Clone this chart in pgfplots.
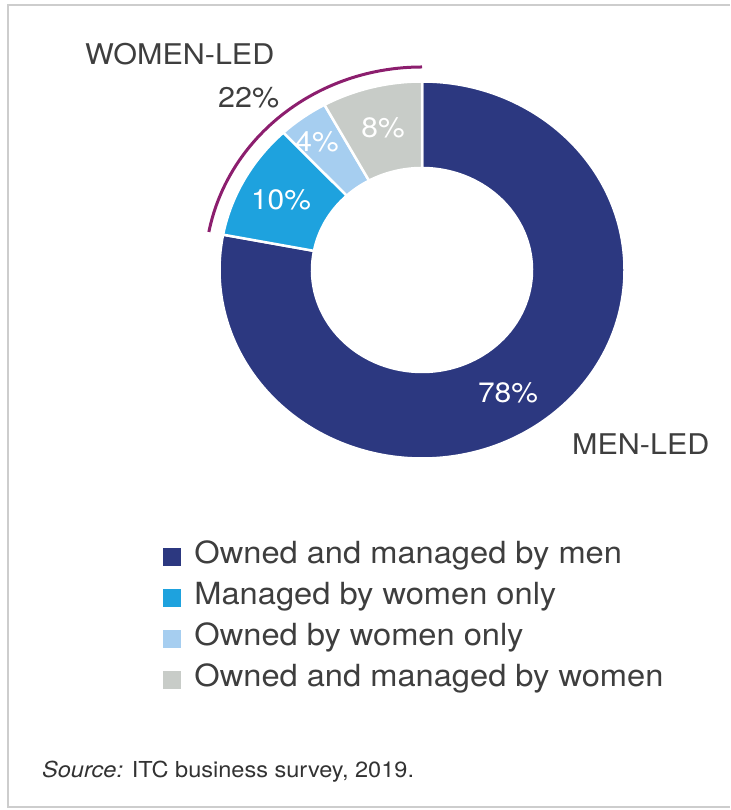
\documentclass[border=0pt]{standalone}
\usepackage{fontspec}
\setmainfont{TeX Gyre Heros}[FakeStretch=1.07]
\usepackage{pgfplots}
\usepackage{pgfplotstable}
\pgfplotsset{compat=1.18}
\definecolor{navy}{RGB}{44,56,128}
\definecolor{skyb}{RGB}{30,162,222}
\definecolor{lightb}{RGB}{166,206,240}
\definecolor{greyc}{RGB}{200,204,200}
\definecolor{purpleline}{RGB}{140,30,110}
\definecolor{textc}{RGB}{62,62,62}
\definecolor{framec}{RGB}{205,205,205}

\pgfplotstableread{
value color
78 navy
10 skyb
4 lightb
8 greyc
}\slices

\begin{document}
\begin{tikzpicture}
\path[use as bounding box] (0,0) rectangle (730pt,810pt);
\begin{axis}[
  x=1pt, y=1pt, xmin=0, xmax=730, ymin=0, ymax=810,
  hide axis, clip=false, anchor=south west, at={(0,0)},
  legend cell align=left,
  legend style={at={(axis cs:163,268)}, anchor=north west, draw=none, fill=none,
    inner sep=0pt, outer sep=0pt, font=\fontsize{30.5}{36}\selectfont, text=textc,
    row sep=11pt, nodes={inner sep=0pt, text height=22pt, text depth=8pt},
    /tikz/every odd column/.append style={column sep=14pt}},
]
% frame
\draw[framec, line width=1.5pt] (axis cs:730,805) -- (axis cs:8,805) -- (axis cs:8,3) -- (axis cs:730,3);

% donut slices from the table, clockwise from the top
\pgfplotstablegetrowsof{\slices}
\pgfmathtruncatemacro\nrows{\pgfplotsretval-1}
\gdef\angstart{90}
\pgfplotsforeachungrouped \i in {0,...,\nrows}{%
  \pgfplotstablegetelem{\i}{value}\of\slices \let\val\pgfplotsretval
  \pgfplotstablegetelem{\i}{color}\of\slices \let\col\pgfplotsretval
  \pgfmathsetmacro\angend{\angstart-3.6*\val}%
  \edef\temp{\noexpand\fill[\col,draw=white,line width=2.5pt,shift={(axis cs:422,540)}]
    (\angstart:202.5pt and 188.5pt) arc[start angle=\angstart,end angle=\angend,x radius=202.5pt,y radius=188.5pt]
    -- (\angend:110pt and 102pt) arc[start angle=\angend,end angle=\angstart,x radius=110pt,y radius=102pt] -- cycle;}%
  \temp
  \ifnum\i=0 \xdef\menend{\angend}\fi
  \xdef\angstart{\angend}%
}
\pgfmathsetmacro\womenarc{360+\menend}
\edef\temp{\noexpand\draw[purpleline,line width=3pt,shift={(axis cs:422,540)}]
  (90:217pt and 203pt) arc[start angle=90,end angle=\womenarc,x radius=217pt,y radius=203pt];}
\temp

% slice labels
\node[white, anchor=base, font=\fontsize{28}{30}\selectfont] at (axis cs:508,407) {78\%};
\node[white, anchor=base, font=\fontsize{28}{30}\selectfont] at (axis cs:281,600) {10\%};
\node[white, anchor=base, font=\fontsize{28}{30}\selectfont] at (axis cs:317,658) {4\%};
\node[white, anchor=base, font=\fontsize{28}{30}\selectfont] at (axis cs:383,672) {8\%};

% group labels
\node[textc, anchor=base west, font=\fontsize{28.5}{30}\selectfont, inner sep=0pt] at (axis cs:85,745) {WOMEN-LED};
\node[textc, anchor=base west, font=\fontsize{28.5}{30}\selectfont, inner sep=0pt] at (axis cs:218,702) {22\%};
\node[textc, anchor=base west, font=\fontsize{28.5}{30}\selectfont, inner sep=0pt] at (axis cs:572,355) {MEN-LED};

% source
\node[textc!80!black, anchor=base west, font=\fontsize{22}{24}\selectfont, inner sep=0pt] at (axis cs:42,32) {\textit{Source:} ITC business survey, 2019.};

% legend
\addlegendimage{legend image code/.code={\fill[navy] (0pt,-8pt) rectangle (17pt,9pt);}}
\addlegendentry{Owned and managed by men}
\addlegendimage{legend image code/.code={\fill[skyb] (0pt,-8pt) rectangle (17pt,9pt);}}
\addlegendentry{Managed by women only}
\addlegendimage{legend image code/.code={\fill[lightb] (0pt,-8pt) rectangle (17pt,9pt);}}
\addlegendentry{Owned by women only}
\addlegendimage{legend image code/.code={\fill[greyc] (0pt,-8pt) rectangle (17pt,9pt);}}
\addlegendentry{Owned and managed by women}
\end{axis}
\end{tikzpicture}
\end{document}
